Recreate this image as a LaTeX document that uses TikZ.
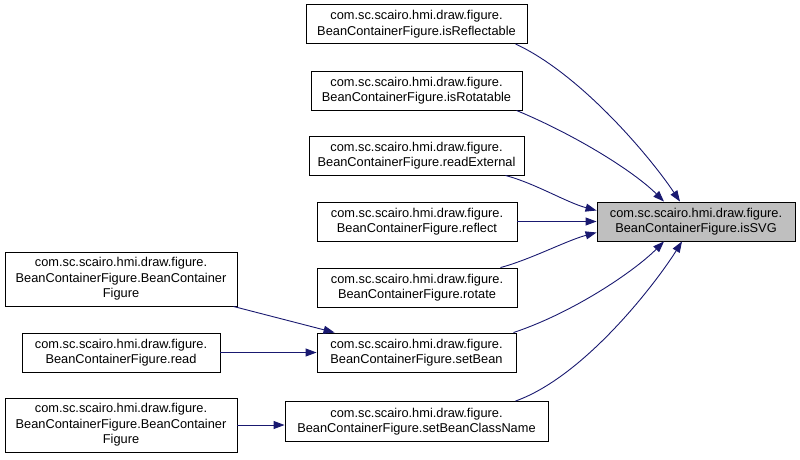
\documentclass[tikz,border=0pt]{standalone}
\usepackage{fontspec}
\setmainfont{Liberation Sans}
\usetikzlibrary{arrows.meta}
\definecolor{edgeblue}{RGB}{25,25,112}
\definecolor{svggray}{RGB}{191,191,191}
\tikzset{
  fn/.style={draw=black, line width=0.9pt, fill=white, inner sep=0pt, align=center,
    font=\fontsize{12.8}{15.5}\selectfont, minimum height=39pt},
  cur/.style={fn, fill=svggray},
  edge/.style={draw=edgeblue, line width=0.9pt, -{Triangle[length=11pt,width=8pt]}}
}
\begin{document}
\begin{tikzpicture}[x=1pt,y=-1pt]
\useasboundingbox (0,0) rectangle (800,459);
\node[cur, minimum width=198pt] (svg) at (696,221.5) {com.sc.scairo.hmi.draw.figure.\\BeanContainerFigure.isSVG};
\node[fn, minimum width=221pt] (refl) at (416.5,24) {com.sc.scairo.hmi.draw.figure.\\BeanContainerFigure.isReflectable};
\node[fn, minimum width=211pt] (rot) at (416.5,90.5) {com.sc.scairo.hmi.draw.figure.\\BeanContainerFigure.isRotatable};
\node[fn, minimum width=215pt] (rext) at (416.5,155.5) {com.sc.scairo.hmi.draw.figure.\\BeanContainerFigure.readExternal};
\node[fn, minimum width=200pt] (reflect) at (417,221.5) {com.sc.scairo.hmi.draw.figure.\\BeanContainerFigure.reflect};
\node[fn, minimum width=200pt] (rotate) at (417,287.5) {com.sc.scairo.hmi.draw.figure.\\BeanContainerFigure.rotate};
\node[fn, minimum width=199pt] (setbean) at (416.5,352.5) {com.sc.scairo.hmi.draw.figure.\\BeanContainerFigure.setBean};
\node[fn, minimum width=263pt, minimum height=40pt] (setbcn) at (416.5,421.5) {com.sc.scairo.hmi.draw.figure.\\BeanContainerFigure.setBeanClassName};
\node[fn, minimum width=232pt, minimum height=54pt] (bcfa) at (121,279) {com.sc.scairo.hmi.draw.figure.\\BeanContainerFigure.BeanContainer\\Figure};
\node[fn, minimum width=198pt] (read) at (121,352.5) {com.sc.scairo.hmi.draw.figure.\\BeanContainerFigure.read};
\node[fn, minimum width=232pt, minimum height=54pt] (bcfb) at (121,425) {com.sc.scairo.hmi.draw.figure.\\BeanContainerFigure.BeanContainer\\Figure};

\draw[edge] ([xshift=-12pt]refl.south east) .. controls +(65,30) and +(-30,-45) .. ([xshift=-16pt]svg.north);
\draw[edge] ([xshift=-6pt]rot.south east) .. controls +(60,25) and +(-30,-30) .. ([xshift=-32pt]svg.north);
\draw[edge] ([xshift=-19pt]rext.south east) .. controls +(30,8) and +(-30,-8) .. ([yshift=11pt]svg.west);
\draw[edge] (reflect.east) -- (svg.west);
\draw[edge] ([xshift=-17pt]rotate.north east) .. controls +(30,-8) and +(-30,8) .. ([yshift=-11pt]svg.west);
\draw[edge] ([xshift=-3pt]setbean.north east) .. controls +(60,-20) and +(-30,30) .. ([xshift=-32pt]svg.south);
\draw[edge] ([xshift=-33pt]setbcn.north east) .. controls +(70,-25) and +(-25,40) .. ([xshift=-14pt]svg.south);
\draw[edge] ([xshift=-4pt]bcfa.south east) -- ([xshift=18pt]setbean.north west);
\draw[edge] (read.east) -- (setbean.west);
\draw[edge] (bcfb.east) -- (setbcn.west |- bcfb.east);
\end{tikzpicture}
\end{document}
